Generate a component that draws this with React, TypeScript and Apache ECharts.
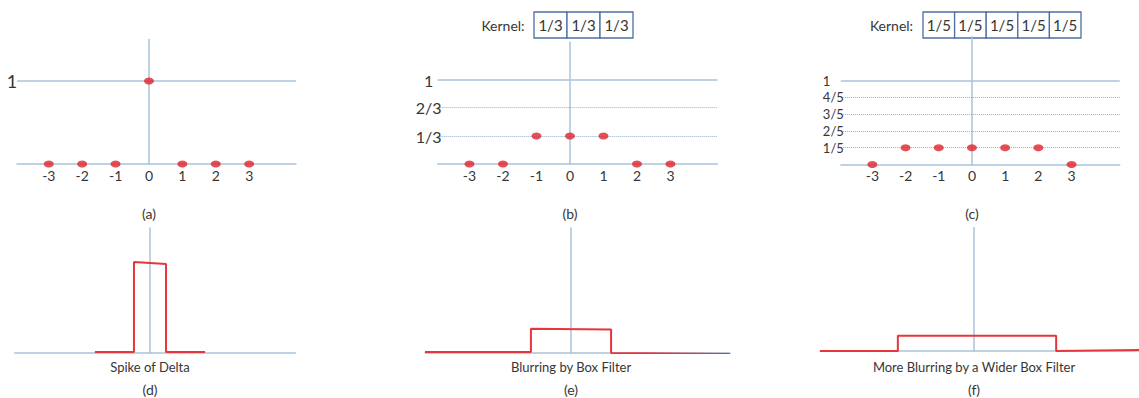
import React, { useEffect, useRef } from "react";
import * as echarts from "echarts";

// ---------- data ----------
const tickValues = [-3, -2, -1, 0, 1, 2, 3];
const deltaSamples = [0, 0, 0, 1, 0, 0, 0];
const box3Samples = [0, 0, 1 / 3, 1 / 3, 1 / 3, 0, 0];
const box5Samples = [0, 1 / 5, 1 / 5, 1 / 5, 1 / 5, 1 / 5, 0];

const levelValuesA = [1];
const levelLabelsA = ["1"];
const levelValuesB = [1, 2 / 3, 1 / 3];
const levelLabelsB = ["1", "2/3", "1/3"];
const levelValuesC = [1, 4 / 5, 3 / 5, 2 / 5, 1 / 5];
const levelLabelsC = ["1", "4/5", "3/5", "2/5", "1/5"];

const kernelB = ["1/3", "1/3", "1/3"];
const kernelC = ["1/5", "1/5", "1/5", "1/5", "1/5"];
const kernelTitle = "Kernel:";

const spikeX = [-1.65, -0.48, -0.48, 0.48, 0.48, 1.65];
const spikeY = [0.01, 0.01, 1.01, 0.99, 0.01, 0.01];
const boxX = [-4.37, -1.2, -1.2, 1.2, 1.2, 4.76];
const boxY = [0.01, 0.01, 0.27, 0.26, 0, -0.01];
const wideX = [-4.61, -2.28, -2.28, 2.46, 2.46, 4.94];
const wideY = [0, 0, 0.17, 0.17, 0, 0.01];

const topCaptions = ["(a)", "(b)", "(c)"];
const bottomTitles = ["Spike of Delta", "Blurring by Box Filter", "More Blurring by a Wider Box Filter"];
const bottomCaptions = ["(d)", "(e)", "(f)"];

// ---------- layout / style ----------
const FONT = "Lato, 'Open Sans', sans-serif";
const AXIS = "#a9c3da";
const DOT = "#8fb2d4";
const RED = "#e0232b";
const RED_LINE = "#e6363d";
const TEXT = "#363636";
const BOX = "#4d6fa3";

const topPanels = [
  { cx: 149, y0: 164, ux: 33.4, uy: 83, xmin: -3.95, xmax: 4.4, ymax: 1.5, lab: 18, dist: 5, align: "center" },
  { cx: 570, y0: 164, ux: 33.5, uy: 84, xmin: -3.95, xmax: 4.4, ymax: 1.45, lab: 16, dist: 9, align: "center" },
  { cx: 972, y0: 164.5, ux: 33.2, uy: 84, xmin: -3.95, xmax: 4.45, ymax: 1.52, lab: 13, dist: 18, align: "left" },
];
const bottomPanels = [
  { cx: 150, y0: 353, ux: 33.4, uy: 90, xmin: -4.05, xmax: 4.35, ymax: 1.39 },
  { cx: 571, y0: 353, ux: 33.4, uy: 90, xmin: -4.37, xmax: 4.76, ymax: 1.39 },
  { cx: 974, y0: 351, ux: 33.4, uy: 90, xmin: -4.61, xmax: 4.94, ymax: 1.37 },
];
const kernelLayout = [
  { titleX: 503, x: 534, y: 12, cellW: 33, h: 26 },
  { titleX: 891.5, x: 923, y: 12, cellW: 31.6, h: 26 },
];

type Panel = { cx: number; y0: number; ux: number; uy: number; xmin: number; xmax: number; ymax: number };

function gridOf(p: Panel) {
  return {
    left: p.cx + p.xmin * p.ux,
    top: p.y0 - p.ymax * p.uy,
    width: (p.xmax - p.xmin) * p.ux,
    height: p.ymax * p.uy,
    containLabel: false,
    outerBoundsMode: "none",
  };
}

export default function App() {
  const ref = useRef<HTMLDivElement>(null);

  useEffect(() => {
    if (!ref.current) return;
    const chart = echarts.init(ref.current, undefined, { renderer: "svg" });
    const allPanels: Panel[] = [...topPanels, ...bottomPanels];
    const grid = allPanels.map(gridOf);

    const xAxis = allPanels.map((p, i) => ({
      gridIndex: i,
      type: "value",
      min: p.xmin,
      max: p.xmax,
      axisLine: { show: true, onZero: true, lineStyle: { color: AXIS, width: 1.5 } },
      axisTick: { show: false },
      splitLine: { show: false },
      axisLabel:
        i < 3
          ? { show: true, customValues: tickValues, color: TEXT, fontSize: 14, margin: 4, fontFamily: FONT }
          : { show: false },
    }));
    const yAxis = allPanels.map((p, i) => ({
      gridIndex: i,
      type: "value",
      min: 0,
      max: p.ymax,
      axisLine: { show: true, onZero: true, lineStyle: { color: AXIS, width: 1.5 } },
      axisTick: { show: false },
      splitLine: { show: false },
      axisLabel: { show: false },
    }));

    const samples = [deltaSamples, box3Samples, box5Samples];
    const levelVals = [levelValuesA, levelValuesB, levelValuesC];
    const levelLabs = [levelLabelsA, levelLabelsB, levelLabelsC];

    const series: any[] = [];
    topPanels.forEach((p, i) => {
      series.push({
        type: "scatter",
        xAxisIndex: i,
        yAxisIndex: i,
        symbol: "circle",
        symbolSize: [10, 7],
        itemStyle: { color: RED },
        data: tickValues.map((x, k) => [x, samples[i][k]]),
        z: 5,
        markLine: {
          silent: true,
          symbol: ["none", "none"],
          animation: false,
          label: {
            position: "start",
            distance: p.dist,
            align: p.align,
            color: TEXT,
            fontSize: p.lab,
            fontFamily: FONT,
          },
          data: levelVals[i].map((v, k) => ({
            yAxis: v,
            label: { formatter: levelLabs[i][k] },
            lineStyle: {
              type: k === 0 ? "solid" : "dotted",
              color: k === 0 ? AXIS : DOT,
              width: k === 0 ? 1.5 : 1,
            },
          })),
        },
      });
    });

    const curves = [
      [spikeX, spikeY],
      [boxX, boxY],
      [wideX, wideY],
    ];
    curves.forEach(([xs, ys], i) => {
      series.push({
        type: "line",
        xAxisIndex: 3 + i,
        yAxisIndex: 3 + i,
        showSymbol: false,
        symbol: "none",
        lineStyle: { color: RED_LINE, width: 2 },
        data: xs.map((x, k) => [x, ys[k]]),
        z: 5,
      });
    });

    const graphic: any[] = [];
    topPanels.forEach((p, i) => {
      graphic.push({
        type: "text",
        x: p.cx,
        y: 213,
        style: { text: topCaptions[i], fill: TEXT, font: `14px ${FONT}`, align: "center", verticalAlign: "middle" },
      });
    });
    bottomPanels.forEach((p, i) => {
      graphic.push({
        type: "text",
        x: p.cx,
        y: 367,
        style: { text: bottomTitles[i], fill: TEXT, font: `13px ${FONT}`, align: "center", verticalAlign: "middle" },
      });
      graphic.push({
        type: "text",
        x: p.cx,
        y: 389,
        style: { text: bottomCaptions[i], fill: TEXT, font: `14px ${FONT}`, align: "center", verticalAlign: "middle" },
      });
    });
    [kernelB, kernelC].forEach((cells, i) => {
      const k = kernelLayout[i];
      graphic.push({
        type: "text",
        x: k.titleX,
        y: k.y + k.h / 2,
        style: { text: kernelTitle, fill: TEXT, font: `14px ${FONT}`, align: "center", verticalAlign: "middle" },
      });
      cells.forEach((c, j) => {
        graphic.push({
          type: "rect",
          shape: { x: k.x + j * k.cellW, y: k.y, width: k.cellW, height: k.h },
          style: { fill: "#fff", stroke: BOX, lineWidth: 1.3 },
        });
        graphic.push({
          type: "text",
          x: k.x + j * k.cellW + k.cellW / 2,
          y: k.y + k.h / 2,
          style: { text: c, fill: TEXT, font: `15px ${FONT}`, align: "center", verticalAlign: "middle" },
        });
      });
    });

    chart.setOption({
      animation: false,
      backgroundColor: "#ffffff",
      textStyle: { fontFamily: FONT },
      grid,
      xAxis,
      yAxis,
      series,
      graphic,
    });
    return () => chart.dispose();
  }, []);

  return (
    <div
      ref={ref}
      style={{ position: "absolute", left: 0, top: 0, width: 1139, height: 398, background: "#fff" }}
    />
  );
}
